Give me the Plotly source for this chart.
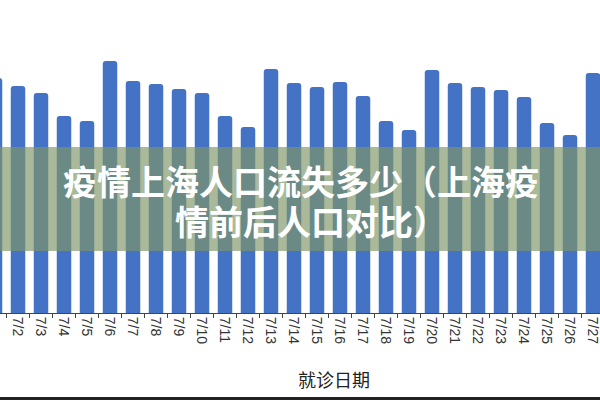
import plotly.graph_objects as go

# 就诊日期 (visit date) categories
dates = ["7/1", "7/2", "7/3", "7/4", "7/5", "7/6", "7/7", "7/8", "7/9", "7/10",
         "7/11", "7/12", "7/13", "7/14", "7/15", "7/16", "7/17", "7/18", "7/19",
         "7/20", "7/21", "7/22", "7/23", "7/24", "7/25", "7/26", "7/27"]

# bar heights (axis is cropped, relative units)
visits = [235, 227, 220, 197, 192, 252, 232, 229, 224, 220,
          197, 186, 244, 230, 226, 231, 217, 192, 183,
          243, 230, 226, 223, 216, 190, 178, 240]

title_lines = ["疫情上海人口流失多少（上海疫", "情前后人口对比）"]
axis_title = "就诊日期"

W, H = 600, 400
plot_h = 313  # pixel height of plot area

fig = go.Figure()
fig.add_trace(go.Bar(x=dates, y=visits, marker_color="#4472C4",
                     marker_line_width=0, width=0.63))

fig.update_layout(
    width=W, height=H,
    margin=dict(l=0, r=0, t=0, b=H - plot_h, autoexpand=False),
    plot_bgcolor="white", paper_bgcolor="white",
    showlegend=False,
    barcornerradius=3,
    xaxis=dict(type="category", range=[0.217, 26.304], automargin=False,
               showline=True, linecolor="#444", linewidth=1,
               ticks="outside", ticklen=4, tickcolor="#444",
               tickson="boundaries", tickangle=90,
               tickfont=dict(family="Liberation Sans", size=14, color="#333"),
               showgrid=False),
    yaxis=dict(visible=False, range=[0, plot_h], automargin=False),
)

# translucent green banner over the middle of the chart
fig.add_shape(type="rect", xref="paper", yref="y", x0=0, x1=1, y0=62, y1=166,
              fillcolor="rgba(127,151,103,0.67)", line_width=0, layer="above")

# dark edge at the bottom of the image
fig.add_shape(type="rect", xref="paper", yref="paper", x0=0, x1=1,
              y0=-(H - plot_h) / plot_h, y1=-(H - plot_h - 3) / plot_h,
              fillcolor="#222", line_width=0)

# banner title, two lines placed separately (boxes kept short so they don't collide)
for line, cx, cy in [(title_lines[0], 301, 180), (title_lines[1], 311, 220)]:
    fig.add_annotation(text="<b>" + line + "</b>", xref="paper", yref="y",
                       x=cx / W, y=plot_h - cy, showarrow=False,
                       xanchor="center", yanchor="middle", height=38,
                       borderpad=0,
                       font=dict(family="Noto Sans CJK SC", size=34, color="white"))

fig.add_annotation(text=axis_title, xref="paper", yref="paper",
                   x=334 / W, y=-(379 - plot_h) / plot_h, showarrow=False,
                   xanchor="center", yanchor="middle",
                   font=dict(family="Noto Sans CJK SC", size=18, color="#222"))

# drop the browser's default body margin so the figure sits at the window corner
fig.write_html("out.html", config={"displayModeBar": False},
               post_script="document.body.style.margin='0';")
